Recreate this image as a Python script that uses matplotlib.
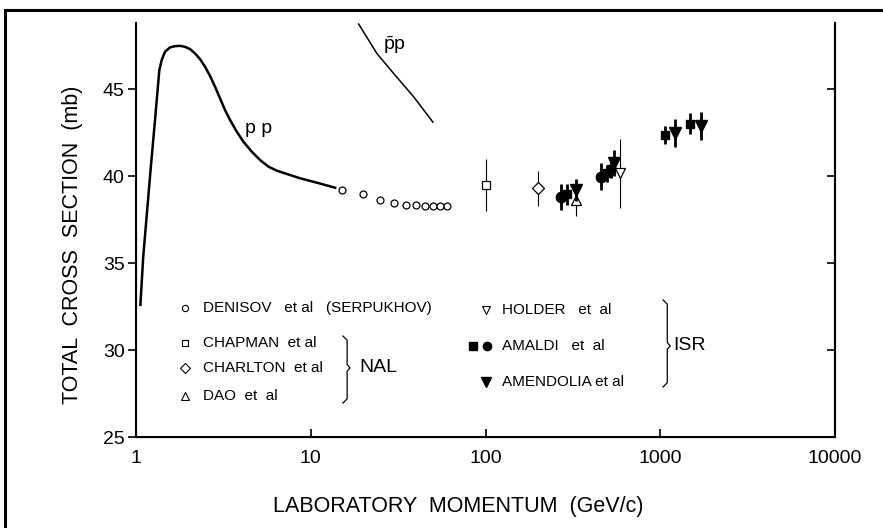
import numpy as np
from matplotlib import pyplot as plt
from matplotlib.lines import Line2D

plt.rcParams["font.family"] = ["Liberation Sans", "DejaVu Sans"]
plt.rcParams["mathtext.fontset"] = "custom"
plt.rcParams["mathtext.rm"] = "Liberation Sans"

# pp total cross section curve
pp_p = [1.06, 1.10, 1.214, 1.285, 1.36, 1.403, 1.466, 1.566, 1.673, 1.787,
        1.909, 2.039, 2.178, 2.327, 2.486, 2.655, 2.836, 3.029, 3.236, 3.457,
        3.775, 4.122, 4.601, 5.136, 5.733, 6.4, 8.72, 10.85, 13.8]
pp_sigma = [32.6, 35.36, 40.44, 43.22, 46.09, 46.67, 47.15, 47.40, 47.47, 47.49,
            47.43, 47.30, 47.05, 46.72, 46.28, 45.75, 45.13, 44.46, 43.79, 43.22,
            42.55, 41.97, 41.40, 40.92, 40.54, 40.31, 39.87, 39.62, 39.33]

# pbar-p curve
pbp_p = [18.8, 23.9, 29.8, 38.8, 50.0]
pbp_sigma = [48.74, 47.05, 45.9, 44.56, 43.1]

# DENISOV et al (SERPUKHOV)
denisov_p = [15, 20, 25, 30, 35, 40, 45, 50, 55, 60]
denisov_sigma = [39.2, 38.95, 38.65, 38.45, 38.35, 38.33, 38.3, 38.28, 38.28, 38.26]

# NAL
chapman_p, chapman_sigma, chapman_err = [100], [39.5], [1.5]
charlton_p, charlton_sigma, charlton_err = [200], [39.3], [1.0]
dao_p, dao_sigma, dao_err = [328], [38.6], [0.9]

# ISR
holder_p, holder_sigma, holder_err = [586], [40.15], [2.0]
amaldi_c_p = [269, 456]
amaldi_c_sigma = [38.78, 39.96]
amaldi_c_err = [0.75, 0.77]
amaldi_s_p = [294, 498, 520, 1066, 1483]
amaldi_s_sigma = [38.95, 40.15, 40.4, 42.36, 43.0]
amaldi_s_err = [0.6, 0.5, 0.5, 0.5, 0.6]
amendolia_p = [328, 543, 1217, 1706]
amendolia_sigma = [39.2, 40.73, 42.5, 42.9]
amendolia_err = [0.65, 0.75, 0.8, 0.8]

xticks = [1, 10, 100, 1000, 10000]
xticklabels = ["1", "10", "100", "1000", "10000"]
yticks = [25, 30, 35, 40, 45]

fig = plt.figure(figsize=(8.83, 5.28), dpi=100)
ax = fig.add_axes([0.154, 0.1723, 0.7917, 0.7841])

ax.plot(pp_p, pp_sigma, color="black", lw=1.8, solid_joinstyle="round")
ax.plot(pbp_p, pbp_sigma, color="black", lw=1.1)

ax.plot(denisov_p, denisov_sigma, "o", mfc="white", mec="black", ms=5, mew=0.9)

thin = dict(fmt="none", ecolor="black", elinewidth=0.8, capsize=0)
thick = dict(fmt="none", ecolor="black", elinewidth=2.0, capsize=0)
ax.errorbar(chapman_p, chapman_sigma, yerr=chapman_err, **thin)
ax.plot(chapman_p, chapman_sigma, "s", mfc="white", mec="black", ms=6, mew=0.9)
ax.errorbar(charlton_p, charlton_sigma, yerr=charlton_err, **thin)
ax.plot(charlton_p, charlton_sigma, "D", mfc="white", mec="black", ms=6, mew=0.9)
ax.errorbar(dao_p, dao_sigma, yerr=dao_err, **thin)
ax.plot(dao_p, dao_sigma, "^", mfc="white", mec="black", ms=6.5, mew=0.9)
ax.errorbar(holder_p, holder_sigma, yerr=holder_err, **thin)
ax.plot(holder_p, holder_sigma, "v", mfc="white", mec="black", ms=7, mew=0.9)

ax.errorbar(amaldi_c_p, amaldi_c_sigma, yerr=amaldi_c_err, **thick)
ax.plot(amaldi_c_p, amaldi_c_sigma, "o", color="black", ms=7.5)
ax.errorbar(amaldi_s_p, amaldi_s_sigma, yerr=amaldi_s_err, **thick)
ax.plot(amaldi_s_p, amaldi_s_sigma, "s", color="black", ms=6)
ax.errorbar(amendolia_p, amendolia_sigma, yerr=amendolia_err, **thick)
ax.plot(amendolia_p, amendolia_sigma, "v", color="black", ms=8)

ax.text(4.2, 42.76, "p p", fontsize=14, va="center", ha="left")
ax.text(26, 47.5, r"$\bar{\mathrm{p}}\mathrm{p}$", fontsize=14, va="center", ha="left")

ax.set_xscale("log")
ax.set_xlim(1, 10000)
ax.set_ylim(25, 48.8)
ax.set_xticks(xticks)
ax.set_xticklabels(xticklabels)
ax.minorticks_off()
ax.set_yticks(yticks)
ax.tick_params(axis="x", direction="in", length=6, width=1.2, labelsize=14, pad=9)
ax.tick_params(axis="y", direction="out", length=6, width=1.2, labelsize=14, pad=2)
ax.spines["top"].set_visible(False)
for s in ("left", "right", "bottom"):
    ax.spines[s].set_linewidth(1.5)

ax2 = ax.twinx()
ax2.set_ylim(25, 48.8)
ax2.set_yticks([30, 35, 40, 45])
ax2.tick_params(axis="y", direction="in", length=6, width=1.2, labelright=False)
ax2.spines["top"].set_visible(False)
ax2.spines["right"].set_linewidth(1.5)

fig.text(0.082, 0.536, "TOTAL  CROSS  SECTION  (mb)", rotation=90,
         fontsize=15.5, ha="center", va="center")
fig.text(0.519, 0.040, "LABORATORY  MOMENTUM  (GeV/c)", fontsize=15.5,
         ha="center", va="center")

# legend, drawn by hand
tr = ax.transAxes
leg = dict(transform=tr, clip_on=False)
ax.plot(0.070, 0.312, "o", mfc="white", mec="black", ms=4.5, mew=0.8, **leg)
ax.plot(0.070, 0.226, "s", mfc="white", mec="black", ms=5, mew=0.8, **leg)
ax.plot(0.070, 0.166, "D", mfc="white", mec="black", ms=5, mew=0.8, **leg)
ax.plot(0.070, 0.099, "^", mfc="white", mec="black", ms=6, mew=0.8, **leg)
ax.plot(0.5007, 0.308, "v", mfc="white", mec="black", ms=6, mew=0.8, **leg)
ax.plot(0.4825, 0.220, "s", color="black", ms=5.5, **leg)
ax.plot(0.5017, 0.220, "o", color="black", ms=6, **leg)
ax.plot(0.5007, 0.1336, "v", color="black", ms=6.5, **leg)

lfs = 11
ax.text(0.0959, 0.312, "DENISOV   et al   (SERPUKHOV)", fontsize=lfs, va="center", transform=tr)
ax.text(0.0959, 0.226, "CHAPMAN  et al", fontsize=lfs, va="center", transform=tr)
ax.text(0.0959, 0.166, "CHARLTON  et al", fontsize=lfs, va="center", transform=tr)
ax.text(0.0959, 0.099, "DAO  et  al", fontsize=lfs, va="center", transform=tr)
ax.text(0.523, 0.308, "HOLDER   et  al", fontsize=lfs, va="center", transform=tr)
ax.text(0.523, 0.220, "AMALDI   et  al", fontsize=lfs, va="center", transform=tr)
ax.text(0.523, 0.1336, "AMENDOLIA et al", fontsize=lfs, va="center", transform=tr)
ax.text(0.320, 0.167, "NAL", fontsize=14, va="center", transform=tr)
ax.text(0.769, 0.220, "ISR", fontsize=14, va="center", transform=tr)


def brace(x, y0, y1, ym, w=0.006):
    # right-curly brace drawn from line pieces
    xs = [x - w, x, x, x + w * 0.7, x, x, x - w]
    ys = [y1, y1 - 0.01, ym + 0.008, ym, ym - 0.008, y0 + 0.01, y0]
    ax.plot(xs, ys, color="black", lw=0.9, **leg)


brace(0.302, 0.082, 0.244, 0.167)
brace(0.760, 0.121, 0.331, 0.220)

# scan frame on left and top
fig.add_artist(Line2D([0.006, 1.0], [0.981, 0.981], color="black", lw=2.2,
                      transform=fig.transFigure))
fig.add_artist(Line2D([0.006, 0.006], [0.0, 0.981], color="black", lw=2.2,
                      transform=fig.transFigure))

fig.savefig("out.png", dpi=100)
